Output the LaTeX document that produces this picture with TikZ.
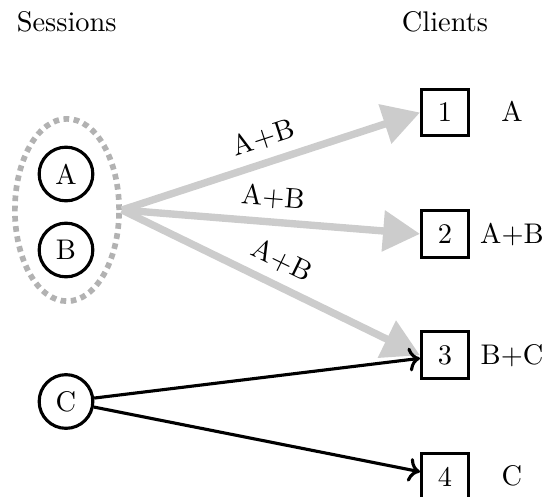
\documentclass[tikz,border=0pt]{standalone}
\usetikzlibrary{shapes.geometric,arrows.meta}
\tikzset{
  sess/.style={circle,draw,line width=1.1pt,minimum size=18.9pt,inner sep=0pt},
  client/.style={rectangle,draw,line width=1.1pt,minimum size=16.5pt,inner sep=0pt},
  grpstyle/.style={ellipse,draw=gray!60,line width=2pt,dash pattern=on 2pt off 1.6pt,minimum width=36.7pt,minimum height=64.2pt,inner sep=0pt},
  grayarrow/.style={draw=gray!40,line width=2.6pt,-{Triangle[length=13pt,width=14pt]}},
  blackarrow/.style={line width=1.1pt,->},
  lab/.style={anchor=base},
  flowlab/.style={midway,above,sloped}
}
\begin{document}
\begin{tikzpicture}[x=0.3521pt,y=-0.3521pt]
\useasboundingbox (0,0) rectangle (547,497);
\node[lab] (hs) at (66.7,31.7) {Sessions};
\node[lab] (hc) at (445,31.7) {Clients};
\node[grpstyle] (grp) at (67,210) {};
\node[sess] (A) at (66,174) {A};
\node[sess] (B) at (66,250) {B};
\node[sess] (C) at (66,401.5) {C};
\node[client] (n1) at (445,112.5) {1};
\node[client] (n2) at (445,233.9) {2};
\node[client] (n3) at (445,355.3) {3};
\node[client] (n4) at (445,476.7) {4};
\node[lab] (l1) at (512,121.6) {A};
\node[lab] (l2) at (512,243.0) {A+B};
\node[lab] (l3) at (512,364.4) {B+C};
\node[lab] (l4) at (512,485.8) {C};
\draw[grayarrow] (grp.east) -- (n1.west) node[flowlab] {A+B};
\draw[grayarrow] (grp.east) -- (n2.west) node[flowlab] {A+B};
\draw[grayarrow] (grp.east) -- (n3.west) node[flowlab] {A+B};
\draw[blackarrow] (C) -- (n3);
\draw[blackarrow] (C) -- (n4);
\end{tikzpicture}
\end{document}
